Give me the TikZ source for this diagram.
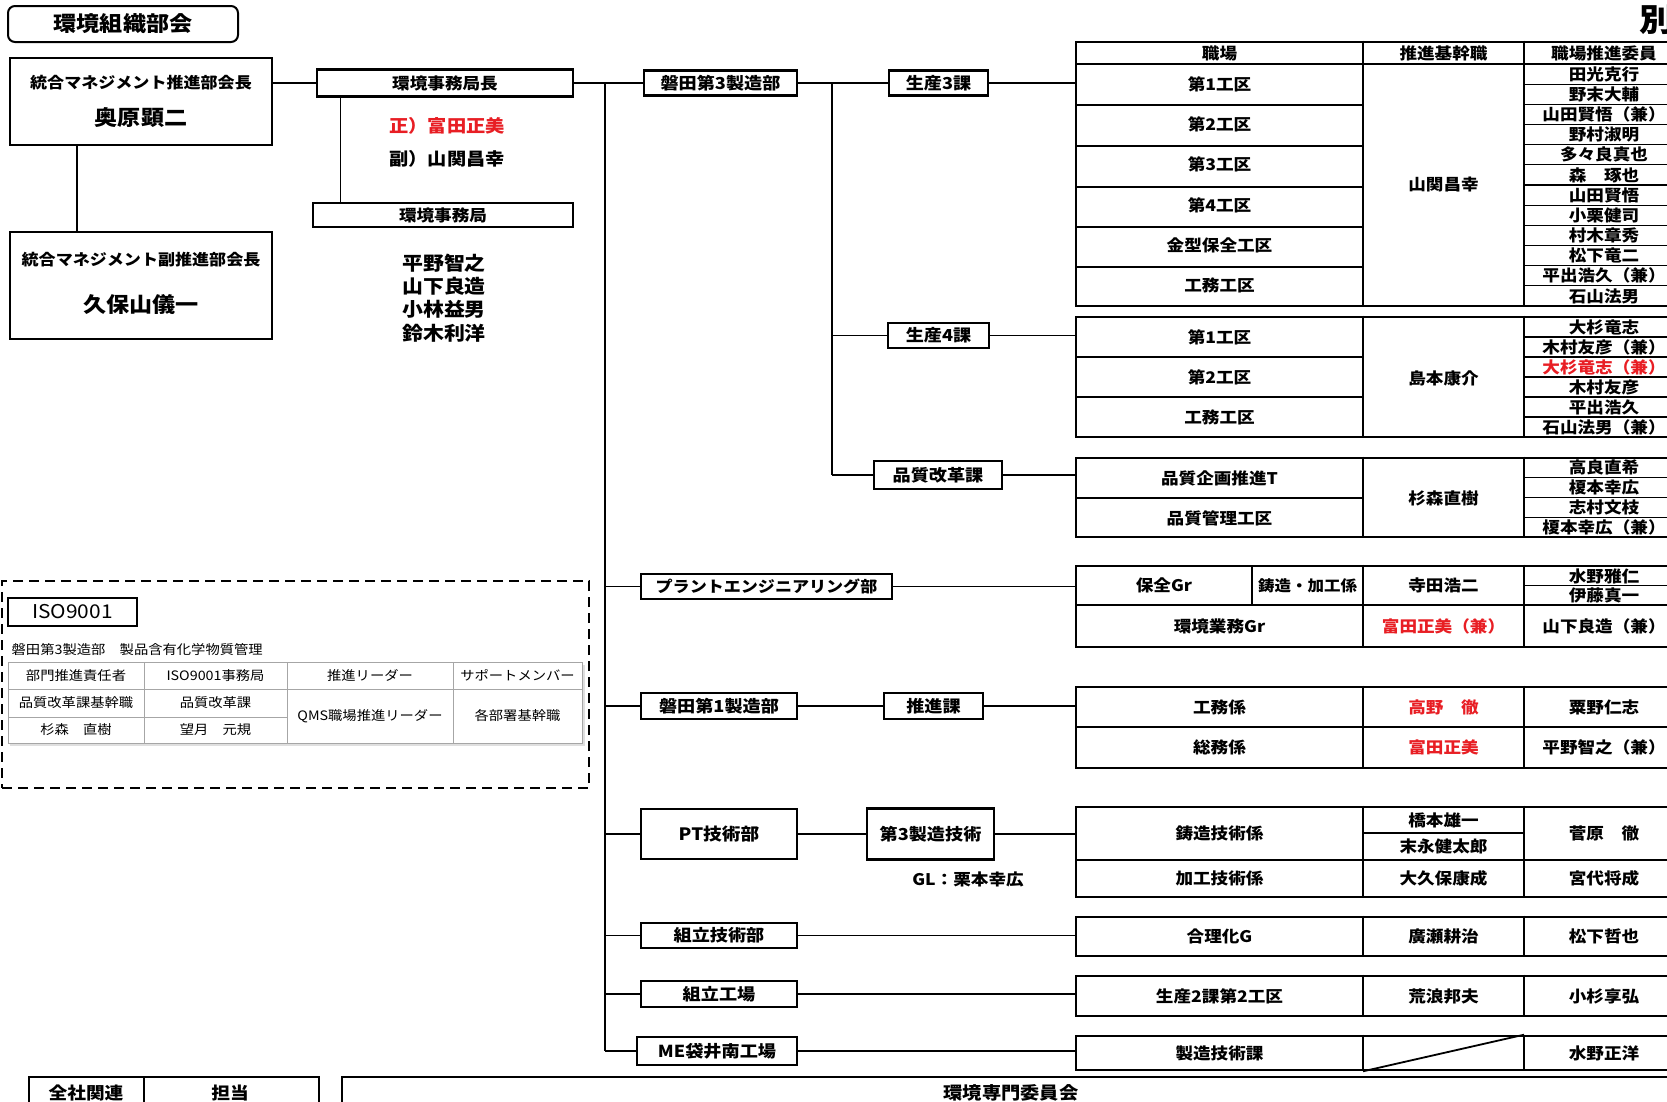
\documentclass[tikz,border=0pt]{standalone}
\usepackage{fontspec}
\setmainfont{Noto Sans CJK JP}[FakeStretch=1.1]
\usetikzlibrary{positioning}
\definecolor{alertred}{RGB}{232,30,36}
\newcommand\fsz[1]{\fontsize{#1}{#1}\selectfont}

\begin{document}
\begin{tikzpicture}[x=1pt, y=-1pt,
    orgbox/.style={draw, line width=2.4pt, inner sep=0pt, fill=white, font=\fsz{16.5}\bfseries},
    tblframe/.style={draw, line width=2.6pt, inner sep=0pt},
    conn/.style={line width=1.3pt},
    rule/.style={line width=1.2pt},
    celltxt/.style={inner sep=0pt, font=\fsz{16}\bfseries},
    mem/.style={inner sep=0pt, font=\fsz{16}\bfseries},
    isocell/.style={inner sep=0pt, font=\fsz{13}},
    alert/.style={text=alertred}
  ]
  \path[use as bounding box, fill=white] (0,0) rectangle (1667,1101);

  % left side: committee heads
  \node[draw, line width=2pt, rounded corners=7pt, minimum width=230, minimum height=36,
        font=\fsz{21}\bfseries] (title) at (123,24) {環境組織部会};
  \node[orgbox, minimum width=262, minimum height=87] (box1) at (141,101.5) {};
  \node[font=\fsz{15.5}\bfseries] (box1a) at (141,83) {統合マネジメント推進部会長};
  \node[font=\fsz{21}\bfseries] (box1b) at (141,118) {奥原顕二};
  \node[orgbox, minimum width=262, minimum height=107] (box2) at (141,285.5) {};
  \node[font=\fsz{15.5}\bfseries] (box2a) at (141,260) {統合マネジメント副推進部会長};
  \node[font=\fsz{21}\bfseries] (box2b) at (141,305) {久保山儀一};
  \draw[conn] ([xshift=-64pt]box1.south) -- ([xshift=-64pt]box2.north);

  \node[orgbox, minimum width=256, minimum height=27, font=\fsz{16}\bfseries] (kyokucho) at (445,83) {環境事務局長};
  \node[orgbox, minimum width=260, minimum height=24, font=\fsz{16}\bfseries] (jimukyoku) at (443,215) {環境事務局};
  \draw[conn] (box1.east |- kyokucho.west) -- (kyokucho.west);
  \draw[conn] ([xshift=25pt]kyokucho.south west) -- ([xshift=25pt]kyokucho.south west |- jimukyoku.north);
  \node[alert, font=\fsz{17.5}\bfseries] (sei) at (447,126) {正）富田正美};
  \node[font=\fsz{17.5}\bfseries] (fuku) at (447,159) {副）山関昌幸};
  \foreach \n [count=\i] in {平野智之,山下良造,小林益男,鈴木利洋}
    \node[font=\fsz{19}\bfseries, inner sep=0pt] (staff-\i) at (444,239.7+23.3*\i) {\n};

  \node[font=\fsz{32}\bfseries, anchor=west] (besshi) at (1636,20) {別};

  % departments
  \node[orgbox, minimum width=153, minimum height=25] (d3) at (720.5,83) {磐田第3製造部};
  \node[orgbox, minimum width=99, minimum height=25] (s3) at (938.5,83) {生産3課};
  \node[orgbox, minimum width=101, minimum height=25] (s4) at (938.5,335.5) {生産4課};
  \node[orgbox, minimum width=128, minimum height=28] (qk) at (938,475) {品質改革課};
  \node[orgbox, minimum width=251, minimum height=25, font=\fsz{15.5}\bfseries] (pe) at (766.5,586.5) {プラントエンジニアリング部};
  \node[orgbox, minimum width=156, minimum height=26] (d1) at (719,706) {磐田第1製造部};
  \node[orgbox, minimum width=99, minimum height=26] (sk) at (933.5,706) {推進課};
  \node[orgbox, minimum width=156, minimum height=50, font=\fsz{17}\bfseries] (pt) at (719,834) {PT技術部};
  \node[orgbox, minimum width=127, minimum height=51] (m3) at (930.5,834) {第3製造技術};
  \node[font=\fsz{16}\bfseries] (gl) at (968,879) {GL：栗本幸広};
  \node[orgbox, minimum width=156, minimum height=25] (kg) at (719,935.5) {組立技術部};
  \node[orgbox, minimum width=156, minimum height=26] (kk) at (719,994) {組立工場};
  \node[orgbox, minimum width=160, minimum height=28] (me) at (717,1051) {ME袋井南工場};

  % tables
  \node[tblframe, minimum width=608, minimum height=264] (t1) at (1380,174) {};
  \node[tblframe, minimum width=608, minimum height=120] (t2) at (1380,377) {};
  \node[tblframe, minimum width=608, minimum height=79] (t3) at (1380,497.5) {};
  \node[tblframe, minimum width=608, minimum height=81] (t4) at (1380,606.5) {};
  \node[tblframe, minimum width=608, minimum height=81] (t5) at (1380,727.5) {};
  \node[tblframe, minimum width=608, minimum height=90] (t6) at (1380,852) {};
  \node[tblframe, minimum width=608, minimum height=39] (t7) at (1380,936.5) {};
  \node[tblframe, minimum width=608, minimum height=40] (t8) at (1380,996) {};
  \node[tblframe, minimum width=608, minimum height=34] (t9) at (1380,1053) {};
  \coordinate (c2) at (1363,0);
  \coordinate (c3) at (1524,0);
  \foreach \t in {t1,t2,t3,t4,t5,t6,t7,t8,t9}
    \draw[rule] (\t.north -| c2) -- (\t.south -| c2) (\t.north -| c3) -- (\t.south -| c3);

  % connectors
  \coordinate (spine) at (605,83);
  \coordinate (sub) at (832,83);
  \draw[conn] (kyokucho.east) -- (d3.west);
  \draw[conn] (spine) -- (spine |- me.west);
  \foreach \b in {pe,d1,pt,kg,kk,me} \draw[conn] (spine |- \b.west) -- (\b.west);
  \draw[conn] (d3.east) -- (s3.west);
  \draw[conn] (sub) -- (sub |- qk.west);
  \foreach \b in {s4,qk} \draw[conn] (sub |- \b.west) -- (\b.west);
  \draw[conn] (d1.east) -- (sk.west);
  \draw[conn] (pt.east) -- (m3.west);
  \draw[conn] (s3.east) -- (s3.east -| t1.west);
  \draw[conn] (s4.east) -- (s4.east -| t2.west);
  \draw[conn] (qk.east) -- (qk.east -| t3.west);
  \draw[conn] (pe.east) -- (pe.east -| t4.west);
  \draw[conn] (sk.east) -- (sk.east -| t5.west);
  \draw[conn] (m3.east) -- (m3.east -| t6.west);
  \draw[conn] (kg.east) -- (kg.east -| t7.west);
  \draw[conn] (kk.east) -- (kk.east -| t8.west);
  \draw[conn] (me.east) -- (me.east -| t9.west);

  % table 1
  \draw[rule, line width=1.6pt] (1076,64) -- (1684,64);
  \foreach \y in {105,146,187,227,267} \draw[rule] (1076,\y) -- (1363,\y);
  \foreach \i in {1,...,11} \draw[rule] (1524,64+20.17*\i) -- (1684,64+20.17*\i);
  \node[celltxt] (h1) at (1219.5,53) {職場};
  \node[celltxt] (h2) at (1443.5,53) {推進基幹職};
  \node[celltxt] (h3) at (1604,53) {職場推進委員};
  \foreach \t [count=\i] in {第1工区,第2工区,第3工区,第4工区,金型保全工区,工務工区}
    \node[celltxt] (w1-\i) at (1219.5,64+40.33*\i-20.17) {\t};
  \node[celltxt] (k1) at (1443.5,185) {山関昌幸};
  \foreach \n [count=\i] in {田光克行,野末大輔,山田賢悟（兼）,野村淑明,多々良真也,森　琢也,
      山田賢悟,小栗健司,村木章秀,松下竜二,平出浩久（兼）,石山法男}
    \node[mem] (p1-\i) at (1604,64+20.17*\i-10.08) {\n};

  % table 2
  \foreach \y in {357,397} \draw[rule] (1076,\y) -- (1363,\y);
  \foreach \i in {1,...,5} \draw[rule] (1524,317+20*\i) -- (1684,317+20*\i);
  \foreach \t [count=\i] in {第1工区,第2工区,工務工区}
    \node[celltxt] (w2-\i) at (1219.5,297+40*\i) {\t};
  \node[celltxt] (k2) at (1443.5,378) {島本康介};
  \foreach \i/\n in {1/大杉竜志,2/木村友彦（兼）,4/木村友彦,5/平出浩久,6/石山法男（兼）}
    \node[mem] (p2-\i) at (1604,307+20*\i) {\n};
  \node[mem, alert] (p2-3) at (1604,367) {大杉竜志（兼）};

  % table 3
  \draw[rule] (1076,498) -- (1363,498);
  \foreach \i in {1,...,3} \draw[rule] (1524,458+19.75*\i) -- (1684,458+19.75*\i);
  \node[celltxt] (w3-1) at (1219.5,478) {品質企画推進T};
  \node[celltxt] (w3-2) at (1219.5,518) {品質管理工区};
  \node[celltxt] (k3) at (1443.5,498) {杉森直樹};
  \foreach \n [count=\i] in {高良直希,榎本幸広,志村文枝,榎本幸広（兼）}
    \node[mem] (p3-\i) at (1604,458+19.75*\i-9.9) {\n};

  % table 4
  \draw[rule] (1076,605) -- (1684,605);
  \draw[rule] (1252,566) -- (1252,605);
  \draw[rule] (1524,585.5) -- (1684,585.5);
  \node[celltxt] (w4-1) at (1164,585.5) {保全Gr};
  \node[celltxt, font=\fsz{15}\bfseries] (w4-2) at (1307.5,585.5) {鋳造・加工係};
  \node[celltxt] (k4-1) at (1443.5,585.5) {寺田浩二};
  \node[mem] (p4-1) at (1604,576) {水野雅仁};
  \node[mem] (p4-2) at (1604,595.5) {伊藤真一};
  \node[celltxt] (w4-3) at (1219.5,626) {環境業務Gr};
  \node[celltxt, alert] (k4-2) at (1443.5,626) {富田正美（兼）};
  \node[celltxt] (p4-3) at (1604,626) {山下良造（兼）};

  % table 5
  \draw[rule] (1076,727) -- (1684,727);
  \node[celltxt] (w5-1) at (1219.5,707) {工務係};
  \node[celltxt, alert] (k5-1) at (1443.5,707) {高野　徹};
  \node[celltxt] (p5-1) at (1604,707) {粟野仁志};
  \node[celltxt] (w5-2) at (1219.5,747.5) {総務係};
  \node[celltxt, alert] (k5-2) at (1443.5,747.5) {富田正美};
  \node[celltxt] (p5-2) at (1604,747.5) {平野智之（兼）};

  % table 6
  \draw[rule] (1076,860) -- (1684,860);
  \draw[rule] (1363,833) -- (1524,833);
  \node[celltxt] (w6-1) at (1219.5,833.5) {鋳造技術係};
  \node[celltxt] (k6-1) at (1443.5,820) {橋本雄一};
  \node[celltxt] (k6-2) at (1443.5,846.5) {末永健太郎};
  \node[celltxt] (p6-1) at (1604,833.5) {菅原　徹};
  \node[celltxt] (w6-2) at (1219.5,878.5) {加工技術係};
  \node[celltxt] (k6-3) at (1443.5,878.5) {大久保康成};
  \node[celltxt] (p6-2) at (1604,878.5) {宮代将成};

  % tables 7-9
  \node[celltxt] (w7) at (1219.5,936.5) {合理化G};
  \node[celltxt] (k7) at (1443.5,936.5) {廣瀬耕治};
  \node[celltxt] (p7) at (1604,936.5) {松下哲也};
  \node[celltxt] (w8) at (1219.5,996) {生産2課第2工区};
  \node[celltxt] (k8) at (1443.5,996) {荒浪邦夫};
  \node[celltxt] (p8) at (1604,996) {小杉享弘};
  \node[celltxt] (w9) at (1219.5,1053) {製造技術課};
  \draw[rule, line width=1.8pt] (t9.south -| c2) -- (t9.north -| c3);
  \node[celltxt] (p9) at (1604,1053) {水野正洋};

  % ISO9001 block
  \node[draw, line width=2.6pt, dash pattern=on 10pt off 6pt, minimum width=587, minimum height=207]
    (isoframe) at (295.5,684.5) {};
  \node[draw, line width=2pt, minimum width=129, minimum height=28, font=\fsz{19}] (isotag) at (72.5,612) {ISO9001};
  \node[anchor=west, inner sep=0pt, font=\fsz{13}] (isocap) at (11.5,650) {磐田第3製造部　製品含有化学物質管理};
  \fill[gray!25] (10,665) rectangle (585,746);
  \filldraw[draw=gray!70, fill=white, line width=0.8pt] (8.5,662) rectangle (582,743);
  \draw[gray!70, line width=0.8pt] (8.5,689) -- (582,689) (8.5,717) -- (287,717)
    (144,662) -- (144,743) (287,662) -- (287,743) (453,662) -- (453,743);
  \node[isocell] (iso-h1) at (76,675.5) {部門推進責任者};
  \node[isocell] (iso-h2) at (215.5,675.5) {ISO9001事務局};
  \node[isocell] (iso-h3) at (370,675.5) {推進リーダー};
  \node[isocell] (iso-h4) at (517.5,675.5) {サポートメンバー};
  \node[isocell] (iso-a1) at (76,703) {品質改革課基幹職};
  \node[isocell] (iso-a2) at (215.5,703) {品質改革課};
  \node[isocell] (iso-a3) at (370,716) {QMS職場推進リーダー};
  \node[isocell] (iso-a4) at (517.5,716) {各部署基幹職};
  \node[isocell] (iso-b1) at (76,730) {杉森　直樹};
  \node[isocell] (iso-b2) at (215.5,730) {望月　元規};

  % bottom strip
  \draw[line width=1.8pt] (29,1112) |- (319,1077) -- (319,1112) (144,1077) -- (144,1112);
  \draw[line width=1.8pt] (342,1112) |- (1684,1077);
  \node[font=\fsz{17}\bfseries] (zensha) at (86,1093) {全社関連};
  \node[font=\fsz{17}\bfseries] (tanto) at (230,1093) {担当};
  \node[font=\fsz{17.5}\bfseries] (senmon) at (1011,1093) {環境専門委員会};
\end{tikzpicture}
\end{document}
